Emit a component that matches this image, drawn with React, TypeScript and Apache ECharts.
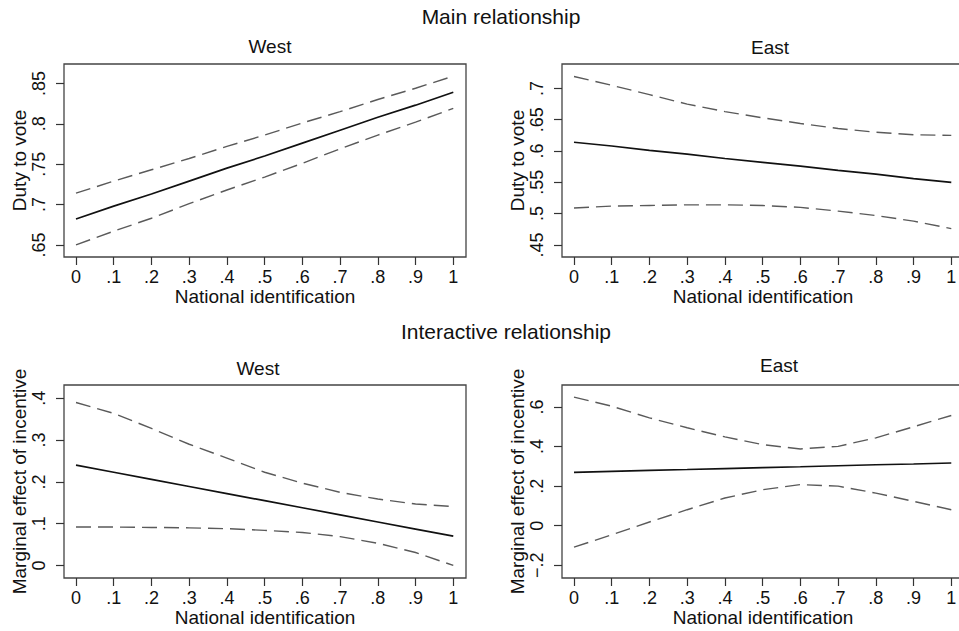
import React, { useEffect, useRef } from "react";
import * as echarts from "echarts";

const xs = [0, 0.1, 0.2, 0.3, 0.4, 0.5, 0.6, 0.7, 0.8, 0.9, 1];
const xTicks = [0, 0.1, 0.2, 0.3, 0.4, 0.5, 0.6, 0.7, 0.8, 0.9, 1];

// Main relationship – West
const westMainFit = [0.682, 0.698, 0.713, 0.729, 0.745, 0.76, 0.776, 0.792, 0.808, 0.823, 0.839];
const westMainUpper = [0.714, 0.729, 0.743, 0.757, 0.772, 0.786, 0.801, 0.815, 0.83, 0.844, 0.859];
const westMainLower = [0.65, 0.667, 0.683, 0.701, 0.718, 0.734, 0.751, 0.769, 0.786, 0.802, 0.819];
const westMainTicks = [0.65, 0.7, 0.75, 0.8, 0.85];

// Main relationship – East
const eastMainFit = [0.614, 0.608, 0.601, 0.595, 0.588, 0.582, 0.576, 0.569, 0.563, 0.556, 0.55];
const eastMainUpper = [0.719, 0.705, 0.69, 0.675, 0.663, 0.653, 0.644, 0.636, 0.63, 0.626, 0.625];
const eastMainLower = [0.509, 0.512, 0.513, 0.514, 0.514, 0.513, 0.51, 0.504, 0.497, 0.488, 0.476];
const eastMainTicks = [0.45, 0.5, 0.55, 0.6, 0.65, 0.7];

// Interactive relationship – West
const westIntFit = [0.24, 0.223, 0.206, 0.189, 0.172, 0.155, 0.138, 0.121, 0.104, 0.087, 0.07];
const westIntUpper = [0.39, 0.364, 0.328, 0.29, 0.257, 0.223, 0.197, 0.175, 0.159, 0.147, 0.141];
const westIntLower = [0.092, 0.092, 0.091, 0.09, 0.088, 0.084, 0.079, 0.069, 0.053, 0.031, 0.0];
const westIntTicks = [0, 0.1, 0.2, 0.3, 0.4];

// Interactive relationship – East
const eastIntFit = [0.27, 0.275, 0.28, 0.284, 0.289, 0.294, 0.298, 0.303, 0.308, 0.312, 0.317];
const eastIntUpper = [0.65, 0.604, 0.545, 0.495, 0.449, 0.41, 0.388, 0.401, 0.444, 0.5, 0.557];
const eastIntLower = [-0.108, -0.046, 0.019, 0.081, 0.14, 0.182, 0.208, 0.2, 0.165, 0.123, 0.081];
const eastIntTicks = [-0.2, 0, 0.2, 0.4, 0.6];

const FONT = "'Liberation Sans', Arial, Helvetica, sans-serif";

const fmt = (v: number) => {
  if (Math.abs(v) < 1e-9) return "0";
  if (Math.abs(v - 1) < 1e-9) return "1";
  const s = String(Math.abs(+v.toFixed(4))).replace(/^0/, "");
  return (v < 0 ? "\u2212" : "") + s;
};

const pairs = (arr: number[]) => xs.map((x, i) => [x, arr[i]]);

export default function App() {
  const ref = useRef<HTMLDivElement>(null);
  useEffect(() => {
    if (!ref.current) return;
    const chart = echarts.init(ref.current, undefined, { renderer: "svg" });

    const grids = [
      { left: 64, top: 64, width: 402, height: 193 },
      { left: 562, top: 64, width: 402, height: 193 },
      { left: 64, top: 385, width: 402, height: 193 },
      { left: 562, top: 385, width: 402, height: 193 },
    ].map((g) => ({ ...g, show: true, borderColor: "#444", borderWidth: 1.3, backgroundColor: "#fff" }));

    const yCfg = [
      { min: 0.635, max: 0.874, ticks: westMainTicks, name: "Duty to vote" },
      { min: 0.4307, max: 0.739, ticks: eastMainTicks, name: "Duty to vote" },
      { min: -0.03, max: 0.4318, ticks: westIntTicks, name: "Marginal effect of incentive" },
      { min: -0.264, max: 0.711, ticks: eastIntTicks, name: "Marginal effect of incentive" },
    ];

    const xAxis = grids.map((_, i) => ({
      type: "value",
      gridIndex: i,
      min: -0.0318,
      max: 1.0337,
      axisLine: { show: false, onZero: false },
      splitLine: { show: false },
      axisTick: { show: true, length: 8, customValues: xTicks, lineStyle: { color: "#333", width: 1.2 } },
      axisLabel: { customValues: xTicks, formatter: fmt, fontSize: 18, color: "#111", fontFamily: FONT, margin: 11 },
      name: "National identification",
      nameLocation: "middle",
      nameGap: 25,
      nameTextStyle: { fontSize: 19, color: "#111", fontFamily: FONT },
    }));

    const yAxis = yCfg.map((c, i) => ({
      type: "value",
      gridIndex: i,
      min: c.min,
      max: c.max,
      axisLine: { show: false, onZero: false },
      splitLine: { show: false },
      axisTick: { show: true, length: 8, customValues: c.ticks, lineStyle: { color: "#333", width: 1.2 } },
      axisLabel: { customValues: c.ticks, formatter: fmt, rotate: 90, fontSize: 18, color: "#111", fontFamily: FONT, margin: 16 },
      name: c.name,
      nameLocation: "middle",
      nameRotate: 90,
      nameGap: 35,
      nameTextStyle: { fontSize: 19, color: "#111", fontFamily: FONT },
    }));

    const panels = [
      [westMainFit, westMainUpper, westMainLower],
      [eastMainFit, eastMainUpper, eastMainLower],
      [westIntFit, westIntUpper, westIntLower],
      [eastIntFit, eastIntUpper, eastIntLower],
    ];

    const series: any[] = [];
    panels.forEach((p, i) => {
      series.push({
        type: "line",
        xAxisIndex: i,
        yAxisIndex: i,
        data: pairs(p[0]),
        symbol: "none",
        lineStyle: { color: "#111", width: 1.7 },
        z: 3,
      });
      [p[1], p[2]].forEach((d) =>
        series.push({
          type: "line",
          xAxisIndex: i,
          yAxisIndex: i,
          data: pairs(d),
          symbol: "none",
          lineStyle: { color: "#5a5a5a", width: 1.4, type: [15, 7] },
          z: 2,
        })
      );
    });

    const txt = (text: string, x: number, y: number, size: number) => ({
      type: "text",
      x,
      y,
      style: {
        text,
        fill: "#111",
        fontSize: size,
        fontFamily: FONT,
        textAlign: "center",
        textVerticalAlign: "middle",
        align: "center",
        verticalAlign: "middle",
      },
    });

    chart.setOption({
      animation: false,
      backgroundColor: "#fff",
      grid: grids,
      xAxis,
      yAxis,
      series,
      graphic: [
        txt("Main relationship", 501, 16, 21),
        txt("West", 270, 46, 19),
        txt("East", 770, 47, 19),
        txt("Interactive relationship", 506, 331, 21),
        txt("West", 258, 368, 19),
        txt("East", 779, 365, 19),
      ],
    });
    return () => chart.dispose();
  }, []);

  return (
    <div style={{ position: "fixed", left: 0, top: 0, width: 959, height: 631, overflow: "hidden", background: "#fff" }}>
      <div ref={ref} style={{ width: 980, height: 631 }} />
    </div>
  );
}
